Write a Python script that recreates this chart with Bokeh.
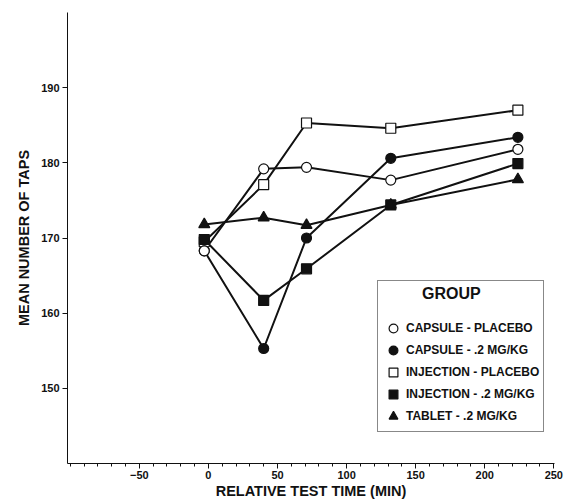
from bokeh.plotting import figure
from bokeh.models import Legend, LegendItem, FixedTicker, Range1d
from bokeh.embed import file_html
from bokeh.resources import INLINE

# ---- data ----
times = [-3, 40, 71, 132, 224]
capsule_placebo = [168.3, 179.2, 179.4, 177.7, 181.8]
capsule_02 = [168.3, 155.3, 170.0, 180.6, 183.4]
injection_placebo = [169.5, 177.1, 185.3, 184.6, 187.0]
injection_02 = [169.8, 161.7, 165.9, 174.4, 179.9]
tablet_02 = [171.8, 172.7, 171.7, 174.4, 177.8]

x_ticks = [-50, 0, 50, 100, 150, 200, 250]
y_ticks = [150, 160, 170, 180, 190]

labels = ["CAPSULE - PLACEBO", "CAPSULE - .2 MG/KG", "INJECTION - PLACEBO",
          "INJECTION - .2 MG/KG", "TABLET - .2 MG/KG"]

FONT = "Liberation Sans"
INK = "#111111"

p = figure(width=566, height=501, output_backend="svg", toolbar_location=None,
           x_range=Range1d(-102, 250.5), y_range=Range1d(140, 200),
           min_border_left=67, min_border_right=12, min_border_top=12, min_border_bottom=37)
p.outline_line_color = None
p.grid.grid_line_color = None
p.background_fill_color = "white"

series = [
    (capsule_placebo, "circle", "white", 10),
    (capsule_02, "circle", INK, 10),
    (injection_placebo, "square", "white", 10),
    (injection_02, "square", INK, 10),
    (tablet_02, "triangle", INK, 11),
]

for vals, _, _, _ in series:
    p.line(times, vals, line_color=INK, line_width=2)

# drawing order (open circle over filled circle, filled square over open square)
draw_order = [2, 1, 3, 0, 4]
marker_renderers = [None] * len(series)
for i in draw_order:
    vals, mk, fill, sz = series[i]
    marker_renderers[i] = p.scatter(times, vals, marker=mk, size=sz, fill_color=fill,
                                    line_color=INK, line_width=1.2)

# axes
for ax in (p.xaxis[0], p.yaxis[0]):
    ax.axis_line_color = INK
    ax.axis_line_width = 1
    ax.major_tick_line_color = INK
    ax.minor_tick_line_color = INK
    ax.major_tick_in = 0
    ax.major_tick_out = 5
    ax.major_label_text_font = FONT
    ax.major_label_text_font_style = "bold"
    ax.major_label_text_font_size = "11px"
    ax.major_label_text_color = INK
    ax.axis_label_text_font = FONT
    ax.axis_label_text_font_style = "bold"
    ax.axis_label_text_font_size = "14.5px"
    ax.axis_label_text_color = INK
    ax.major_label_standoff = 3
    ax.axis_label_standoff = 2

p.xaxis[0].ticker = FixedTicker(ticks=x_ticks, minor_ticks=list(range(-100, 251, 10)))
p.xaxis[0].minor_tick_in = 0
p.xaxis[0].minor_tick_out = 3
p.xaxis[0].major_label_standoff = 2
p.xaxis[0].axis_label_standoff = 1
p.yaxis[0].ticker = FixedTicker(ticks=y_ticks, minor_ticks=[])
p.yaxis[0].minor_tick_line_color = None
p.xaxis[0].axis_label = "RELATIVE TEST TIME (MIN)"
p.yaxis[0].axis_label = "MEAN NUMBER OF TAPS"
p.yaxis[0].axis_label_standoff = 6

legend = Legend(
    items=[LegendItem(label=lab, renderers=[r]) for lab, r in zip(labels, marker_renderers)],
    location=(310, 31),
    title="\u00a0" * 9 + "GROUP",
    title_text_font=FONT, title_text_font_style="bold", title_text_font_size="16px",
    title_text_color=INK, title_standoff=14,
    label_text_font=FONT, label_text_font_style="bold", label_text_font_size="12px",
    label_text_color=INK,
    border_line_color=INK, border_line_width=1,
    background_fill_color="white", background_fill_alpha=1,
    glyph_width=22, glyph_height=22, label_height=22, label_standoff=2,
    spacing=0, padding=4, margin=0,
)
p.add_layout(legend)

open("out.html", "w").write(file_html(p, INLINE))
